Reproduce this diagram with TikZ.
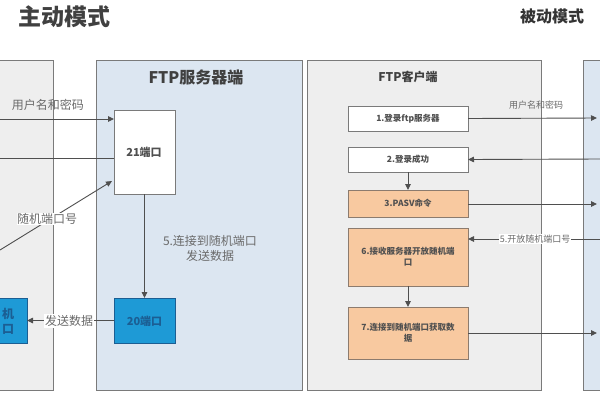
\documentclass[tikz,border=0pt]{standalone}
\usepackage{fontspec}
\setmainfont{Noto Sans CJK SC}
\usetikzlibrary{arrows.meta}
\definecolor{pgray}{HTML}{EEEEEE}
\definecolor{pblue}{HTML}{DCE6F1}
\definecolor{pborder}{HTML}{7A7A7A}
\definecolor{orangebox}{HTML}{F8C9A0}
\definecolor{orangeborder}{HTML}{8C7B6E}
\definecolor{bluebox}{HTML}{1E9AD6}
\definecolor{blueborder}{HTML}{1B5E93}
\definecolor{linec}{HTML}{4F4F4F}
\definecolor{lblc}{HTML}{6A6A6A}
\definecolor{txtc}{HTML}{505050}
\tikzset{
  panelg/.style={draw=pborder, fill=pgray, line width=0.9pt, anchor=north west, inner sep=0pt, outer sep=0pt},
  panelb/.style={draw=pborder, fill=pblue, line width=0.9pt, anchor=north west, inner sep=0pt, outer sep=0pt},
  wbox/.style={draw=pborder, fill=white, line width=1pt, anchor=north west, inner sep=0pt, outer sep=0pt},
  obox/.style={draw=orangeborder, fill=orangebox, line width=1pt, anchor=north west, inner sep=0pt, outer sep=0pt},
  bbox/.style={draw=blueborder, fill=bluebox, line width=1pt, anchor=north west, inner sep=0pt, outer sep=0pt},
  boxtxt/.style={text=txtc, font=\bfseries\fontsize{8.5}{11}\selectfont, align=center},
  arr/.style={draw=linec, line width=0.9pt, -{Triangle[length=6pt,width=5.5pt]}},
  ln/.style={draw=linec, line width=0.9pt},
  lbl/.style={text=lblc, inner sep=1pt},
  lblbig/.style={lbl, font=\fontsize{12}{15}\selectfont},
  lblsmall/.style={lbl, font=\fontsize{9}{11}\selectfont},
}
\begin{document}
\begin{tikzpicture}[x=1pt,y=-1pt]
\path[use as bounding box, fill=white] (0,0) rectangle (600,400);
\clip (0,0) rectangle (600,400);
% titles
\node[font=\bfseries\fontsize{23}{25}\selectfont, text=black!75] (t1) at (64,17) {主动模式};
\node[font=\bfseries\fontsize{16}{18}\selectfont, text=black!80] (t2) at (552,16) {被动模式};
% panels
\node[panelg, minimum width=80pt, minimum height=330pt] (lp) at (-27,60) {};
\node[panelb, minimum width=206pt, minimum height=330pt] (sp) at (96,60) {};
\node[panelg, minimum width=234pt, minimum height=330pt] (cp) at (307,60) {};
\node[panelb, minimum width=40pt, minimum height=330pt] (rp) at (583,60) {};
\node[font=\bfseries\fontsize{16}{18}\selectfont, text=black!75] (spt) at (196,77) {FTP服务器端};
\node[font=\bfseries\fontsize{12}{14}\selectfont, text=black!75] (cpt) at (408,77) {FTP客户端};
% server boxes
\node[wbox, minimum width=61pt, minimum height=84pt] (p21) at (114,110) {};
\node[font=\bfseries\fontsize{11}{13}\selectfont, text=txtc] (p21t) at (144,152) {21端口};
\node[bbox, minimum width=61pt, minimum height=45pt] (p20) at (114,298) {};
\node[font=\bfseries\fontsize{11}{13}\selectfont, text=blueborder] (p20t) at (144.5,321) {20端口};
\node[bbox, minimum width=54pt, minimum height=45pt] (lb) at (-27,298) {};
\node[font=\bfseries\fontsize{12}{15}\selectfont, text=blueborder, align=center, inner sep=0pt] (lbt) at (8,321) {机\\口};
% client boxes
\node[wbox, minimum width=120pt, minimum height=25pt] (c1) at (348,106) {};
\node[boxtxt] at (c1.center) {1.登录ftp服务器};
\node[wbox, minimum width=120pt, minimum height=25pt] (c2) at (348,147) {};
\node[boxtxt] at (c2.center) {2.登录成功};
\node[obox, minimum width=120pt, minimum height=27pt] (c3) at (348,190) {};
\node[boxtxt] at (c3.center) {3.PASV命令};
\node[obox, minimum width=120pt, minimum height=58pt] (c6) at (348,228) {};
\node[boxtxt] at (c6.center) {6.接收服务器开放随机端\\口};
\node[obox, minimum width=120pt, minimum height=52pt] (c7) at (348,307) {};
\node[boxtxt] at (c7.center) {7.连接到随机端口获取数\\据};
% left side connectors
\coordinate (la) at (0,119);
\coordinate (lb2) at (0,158);
\coordinate (lc) at (0,250);
\coordinate (p21a) at (114,119);
\coordinate (p21b) at (114,158);
\coordinate (p21c) at (112,181);
\draw[arr] (la) -- (p21a);
\node[lblbig] (lab1) at (48,105) {用户名和密码};
\draw[ln] (lb2) -- (p21b);
\draw[arr] (lc) -- (p21c);
\node[lblbig, fill=white, inner sep=0.5pt] (lab2) at (47,219) {随机端口号};
\draw[arr] (p21.south) -- (p20.north);
\node[lblbig, align=center] (lab3) at (210,248) {5.连接到随机端口\\发送数据};
\draw[arr] (p20.west) -- (lb.east);
\node[lblbig, fill=white, inner sep=1pt] (lab4) at (69,321) {发送数据};
% client connectors
\coordinate (r1) at (597,118);
\coordinate (r2) at (600,159);
\coordinate (r3) at (597,204);
\coordinate (r6) at (600,239);
\coordinate (r7) at (597,333);
\draw[arr] (c1.east) -- (r1);
\node[lblsmall] (lab5) at (536,105) {用户名和密码};
\draw[arr] (r2) -- (c2.east);
\draw[arr] (c2.south) -- (c3.north);
\draw[arr] (c3.east |- r3) -- (r3);
\draw[arr] (r6) -- (c6.east |- r6);
\node[lblsmall, fill=white, inner sep=1pt] (lab6) at (535,239) {5.开放随机端口号};
\draw[arr] (c6.south) -- (c7.north);
\draw[arr] (c7.east |- r7) -- (r7);
\end{tikzpicture}
\end{document}
